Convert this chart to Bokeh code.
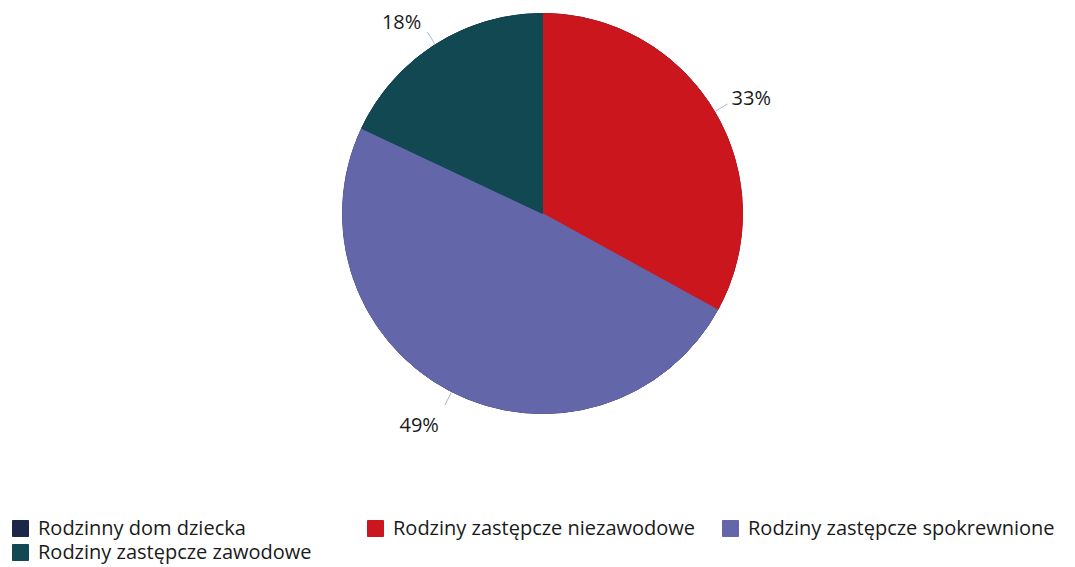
import math
from bokeh.plotting import figure
from bokeh.models import Range1d, Legend, LegendItem, ColumnDataSource
from bokeh.core.properties import value
from bokeh.embed import file_html
from bokeh.resources import INLINE

categories = ["Rodzinny dom dziecka", "Rodziny zastępcze niezawodowe",
              "Rodziny zastępcze spokrewnione", "Rodziny zastępcze zawodowe"]
shares = [0, 33, 49, 18]
colors = ["#1b2649", "#cb161d", "#6466aa", "#114852"]
legend_rows = [[0, 1, 2], [3]]

W, H = 1075, 567
p = figure(width=W, height=H, output_backend="svg", toolbar_location=None,
           x_range=Range1d(0, W), y_range=Range1d(0, H), min_border=0)
p.axis.visible = False
p.grid.visible = False
p.outline_line_color = None
p.background_fill_color = "white"
p.border_fill_color = "white"

cx, cy, R = 542, 567 - 213, 200
total = sum(shares)
renderers = []
cum = 0.0
mids = []
for cat, v, c in zip(categories, shares, colors):
    a0 = math.pi / 2 - 2 * math.pi * cum / total
    cum += v
    a1 = math.pi / 2 - 2 * math.pi * cum / total
    r = p.wedge(x=cx, y=cy, radius=R, start_angle=a0, end_angle=a1, direction="clock",
                fill_color=c, line_color=c, line_width=1)
    renderers.append(r)
    mids.append((a0 + a1) / 2)

# labels with leader lines
lx0, ly0, lx1, ly1, tx, ty, tt, ta = [], [], [], [], [], [], [], []
for v, a in zip(shares, mids):
    if v == 0:
        continue
    ca, sa = math.cos(a), math.sin(a)
    lx0.append(cx + (R + 1) * ca); ly0.append(cy + (R + 1) * sa)
    ex, ey = cx + (R + 15) * ca, cy + (R + 15) * sa
    lx1.append(ex); ly1.append(ey)
    dy = sa * 12 if sa > 0 else sa * 22
    tx.append(ex + (4 if ca > 0 else -6)); ty.append(ey + dy)
    tt.append(f"{v}%"); ta.append("left" if ca > 0 else "right")

p.segment(x0=lx0, y0=ly0, x1=lx1, y1=ly1, line_color="#aab6c9", line_width=1)
src = ColumnDataSource(dict(x=tx, y=ty, t=tt, a=ta))
p.text(x="x", y="y", text="t", text_align="a", source=src, text_baseline="middle",
       text_font=value("Open Sans"), text_font_size="20px", text_color="#1a1a1a")

for row, loc in zip(legend_rows, [(10, 26), (10, 2)]):
    items = [LegendItem(label=categories[i], renderers=[renderers[i]]) for i in row]
    legend = Legend(items=items, location=loc, orientation="horizontal",
                    glyph_width=20, glyph_height=20, label_standoff=8, label_width=325,
                    label_height=22, spacing=2, padding=0, margin=0,
                    label_text_font="Open Sans", label_text_font_size="20px",
                    label_text_color="#1a1a1a", border_line_alpha=0,
                    background_fill_alpha=0, click_policy="none")
    p.add_layout(legend)

open("out.html", "w").write(file_html(p, INLINE))
